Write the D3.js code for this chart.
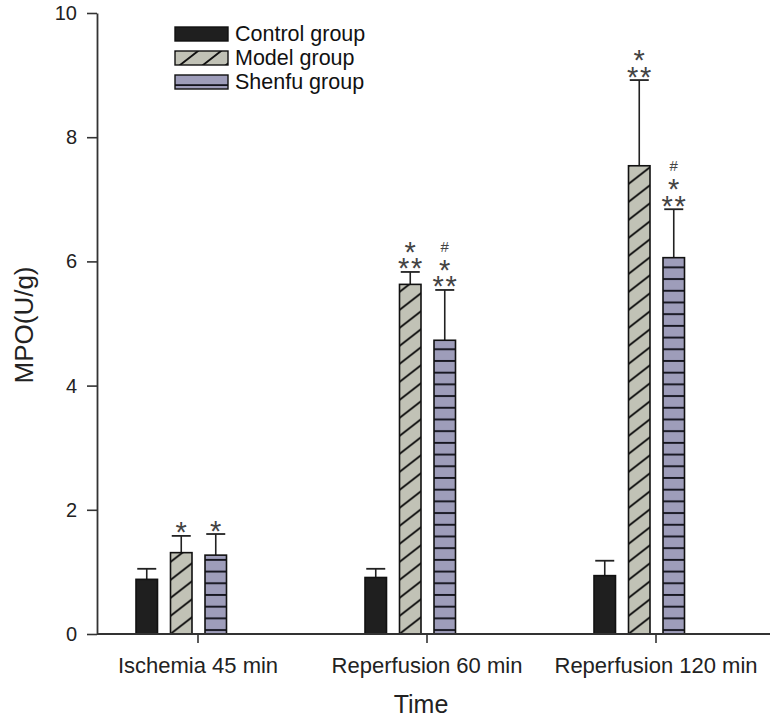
<!DOCTYPE html>
<html><head><meta charset="utf-8">
<script src="https://cdn.jsdelivr.net/npm/d3@7"></script>
<style>body{margin:0;background:#fff}svg{display:block}text{font-family:"Liberation Sans",Arial,sans-serif}</style>
</head><body><svg id="c" width="772" height="717"></svg>
<script>
const categories = ["Ischemia 45 min", "Reperfusion 60 min", "Reperfusion 120 min"];
const groups = ["Control group", "Model group", "Shenfu group"];
const controlMean = [0.88, 0.91, 0.94];
const controlErr  = [0.17, 0.14, 0.24];
const modelMean   = [1.31, 5.63, 7.54];
const modelErr    = [0.27, 0.20, 1.38];
const shenfuMean  = [1.27, 4.73, 6.06];
const shenfuErr   = [0.34, 0.81, 0.78];
const modelMarks  = [["*"], ["*", "**"], ["*", "**"]];
const shenfuMarks = [["*"], ["#", "*", "**"], ["#", "*", "**"]];
const yTicks = [0, 2, 4, 6, 8, 10];

const svg = d3.select("#c");
const y = d3.scaleLinear().domain([0, 10]).range([634, 13]);
const x0 = d3.scaleBand().domain(categories).range([83.5, 770.5]).padding(0);
const x1 = d3.scaleBand().domain(groups).range([-62, 28.5]).paddingInner(0.377).paddingOuter(0);

const defs = svg.append("defs");
const pd = defs.append("pattern").attr("id", "diag").attr("patternUnits", "userSpaceOnUse")
  .attr("width", 23).attr("height", 18);
pd.append("rect").attr("width", 23).attr("height", 18).attr("fill", "#c1c2b6");
pd.append("path").attr("d", "M-23,18L0,0M0,18L23,0M23,18L46,0M-23,36L23,0M0,36L46,0M-46,18L0,-18M0,0L23,-18")
  .attr("stroke", "#111").attr("stroke-width", 1.8);
const ph = defs.append("pattern").attr("id", "horiz").attr("patternUnits", "userSpaceOnUse")
  .attr("width", 20).attr("height", 11.7);
ph.append("rect").attr("width", 20).attr("height", 11.7).attr("fill", "#9e9dba");
ph.append("rect").attr("y", 6.8).attr("width", 20).attr("height", 1.9).attr("fill", "#15151f");

const series = [
  {name: groups[0], mean: controlMean, err: controlErr, fill: "#1f1f1f", marks: null},
  {name: groups[1], mean: modelMean, err: modelErr, fill: "url(#diag)", marks: modelMarks},
  {name: groups[2], mean: shenfuMean, err: shenfuErr, fill: "url(#horiz)", marks: shenfuMarks}
];

const plot = svg.append("g");
const ann = svg.append("g");
const STAR = 29, STAR_OFF = 16.5, LINE = 16.5, PAIR = 6.5;
series.forEach(s => {
  categories.forEach((c, i) => {
    const bx = x0(c) + x0.bandwidth() / 2 + x1(s.name);
    const bw = x1.bandwidth();
    const g = plot.append("g").attr("transform", `translate(${bx},${y(0)})`);
    const top = y(s.mean[i]) - y(0);
    const etop = y(s.mean[i] + s.err[i]) - y(0);
    g.append("line").attr("x1", bw / 2).attr("x2", bw / 2).attr("y1", top).attr("y2", etop)
      .attr("stroke", "#222").attr("stroke-width", 1.6);
    g.append("line").attr("x1", bw / 2 - 9.5).attr("x2", bw / 2 + 9.5).attr("y1", etop).attr("y2", etop)
      .attr("stroke", "#222").attr("stroke-width", 1.8);
    g.append("rect").attr("x", 0).attr("y", top).attr("width", bw).attr("height", -top)
      .attr("fill", s.fill).attr("stroke", "#111").attr("stroke-width", 1.6);
    if (s.marks) {
      const lines = s.marks[i];
      const n = lines.length;
      const cx = bx + bw / 2;
      const xs = [], ys = [];
      let starStr = "";
      lines.forEach((str, k) => {
        const center = y(s.mean[i] + s.err[i]) - 10 - (n - 1 - k) * LINE;
        if (str === "#") {
          ann.append("text").attr("x", cx).attr("y", center + 5)
            .attr("text-anchor", "middle").attr("font-family", "Liberation Serif, serif")
            .attr("font-size", 15).attr("fill", "#444").text(str);
        } else {
          const m = str.length;
          for (let j = 0; j < m; j++) {
            xs.push(cx + (j - (m - 1) / 2) * 2 * PAIR);
            ys.push(center + STAR_OFF);
          }
          starStr += str;
        }
      });
      ann.append("text").attr("text-anchor", "middle").attr("fill", "#444").attr("font-size", STAR)
        .attr("x", xs.join(" ")).attr("y", ys.join(" ")).text(starStr);
    }
  });
});

const yAxis = svg.append("g").attr("transform", "translate(97,0)")
  .call(d3.axisLeft(y).tickValues(yTicks).tickSize(10).tickPadding(10).tickSizeOuter(0));
yAxis.select(".domain").attr("stroke", "#333").attr("stroke-width", 1.8);
yAxis.selectAll(".tick line").attr("stroke", "#333").attr("stroke-width", 1.6);
yAxis.selectAll(".tick text").attr("font-size", 20).attr("fill", "#222")
  .attr("font-family", "Liberation Sans, Arial, sans-serif");

const xAxis = svg.append("g").attr("transform", `translate(0,${y(0)})`)
  .call(d3.axisBottom(x0).tickSize(9).tickPadding(14).tickSizeOuter(0));
xAxis.select(".domain").attr("stroke", "#333").attr("stroke-width", 1.8)
  .attr("d", "M97,0H770");
xAxis.selectAll(".tick line").attr("stroke", "#333").attr("stroke-width", 1.6);
xAxis.selectAll(".tick text").attr("font-size", 22).attr("fill", "#222")
  .attr("font-family", "Liberation Sans, Arial, sans-serif");

svg.append("text").attr("x", 421).attr("y", 713).attr("text-anchor", "middle")
  .attr("font-size", 25).attr("fill", "#222").text("Time");
svg.append("text").attr("transform", "translate(33,325) rotate(-90)").attr("text-anchor", "middle")
  .attr("font-size", 26).attr("fill", "#222").text("MPO(U/g)");

const lp = defs.append("pattern").attr("id", "horizL").attr("patternUnits", "userSpaceOnUse")
  .attr("width", 20).attr("height", 14);
lp.append("rect").attr("width", 20).attr("height", 14).attr("fill", "#9e9dba");
lp.append("rect").attr("y", 9.2).attr("width", 20).attr("height", 1.8).attr("fill", "#15151f");
const legendFill = ["#1f1f1f", "url(#diag)", "url(#horizL)"];
const legendY = d3.scalePoint().domain(groups).range([27, 75]);
groups.forEach((gname, i) => {
  const g = svg.append("g").attr("transform", `translate(175,${legendY(gname)})`);
  g.append("rect").attr("width", 53).attr("height", 14).attr("fill", legendFill[i])
    .attr("stroke", "#111").attr("stroke-width", 1.4);
  g.append("text").attr("x", 60).attr("y", 14).attr("font-size", 21.5).attr("fill", "#111").text(gname);
});
</script></body></html>
